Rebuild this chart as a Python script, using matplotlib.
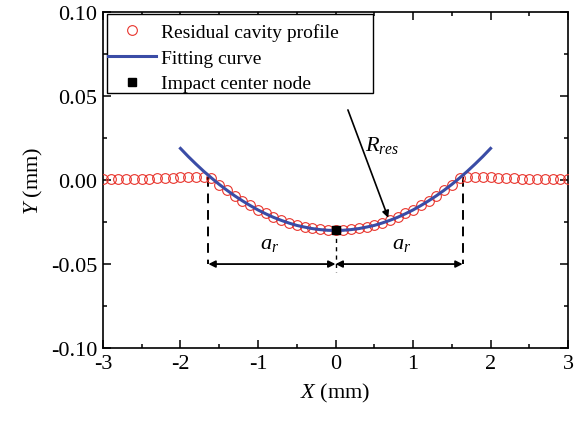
import numpy as np
import matplotlib as mpl
mpl.use('Agg')
import matplotlib.pyplot as plt
from matplotlib.patches import Rectangle
from matplotlib.ticker import MultipleLocator, FormatStrFormatter

# residual cavity profile, nodes every 0.1 mm
x_prof = np.round(np.arange(-30, 31) * 0.1, 1)
y_outer_left = [0.0005, 0.0005, 0.0006, 0.0006, 0.0007, 0.0008, 0.0009,
                0.0010, 0.0012, 0.0013, 0.0015, 0.0017, 0.0019, 0.0020]
y_inner_left = [0.0010, -0.0027, -0.0062, -0.0093, -0.0122, -0.0150,
                -0.0176, -0.0199, -0.0220, -0.0238, -0.0254, -0.0268,
                -0.0279, -0.0288, -0.0294, -0.0298]
y_center = [-0.0300]
y_prof = (y_outer_left + y_inner_left + y_center
          + y_inner_left[::-1] + y_outer_left[::-1])

# fitted circle, sampled every 0.1 mm between -2 and 2
x_fit = np.round(np.arange(-20, 21) * 0.1, 1)
y_fit_half = [0.0188, 0.0140, 0.0095, 0.0052, 0.0012, -0.0026, -0.0061,
              -0.0094, -0.0124, -0.0152, -0.0178, -0.0201, -0.0222,
              -0.0240, -0.0256, -0.0270, -0.0280, -0.0289, -0.0295,
              -0.0299]
y_fit = y_fit_half + [-0.0300] + y_fit_half[::-1]

x_node, y_node = 0.0, -0.030
a_r = 1.64
y_arrow = -0.050

plt.rcParams['font.family'] = ['Liberation Serif', 'DejaVu Serif']
plt.rcParams['mathtext.fontset'] = 'custom'
plt.rcParams['mathtext.rm'] = 'Liberation Serif'
plt.rcParams['mathtext.it'] = 'Liberation Serif:italic'
plt.rcParams['axes.unicode_minus'] = False

fig = plt.figure(figsize=(5.75, 4.31), dpi=100)
ax = fig.add_axes([0.179, 0.190, 0.809, 0.780])

red = '#e8342c'
blue = '#3a4ca6'

ax.plot(x_prof, y_prof, 'o', mfc='none', mec=red, mew=0.8, ms=7,
        label='Residual cavity profile', zorder=3)
ax.plot(x_fit, y_fit, '-', color=blue, lw=2.2, label='Fitting curve',
        zorder=4)
ax.plot([x_node], [y_node], 's', color='black', ms=6,
        label='Impact center node', zorder=5)

# dimension lines for the cavity radius
dash = dict(color='black', lw=1.4, ls=(0, (5, 3.5)), zorder=2)
ax.plot([-a_r, -a_r], [0.002, y_arrow], **dash)
ax.plot([a_r, a_r], [0.002, y_arrow], **dash)
ax.plot([0, 0], [y_node, -0.0545], color='black', lw=1.0,
        ls=(0, (3, 3)), zorder=2)
arr = dict(arrowstyle='<|-|>', color='black', lw=1.3,
           mutation_scale=10, shrinkA=0, shrinkB=0)
ax.annotate('', xy=(-a_r, y_arrow), xytext=(0, y_arrow), arrowprops=arr)
ax.annotate('', xy=(a_r, y_arrow), xytext=(0, y_arrow), arrowprops=arr)
ax.text(-0.85, -0.0375, r'$a_r$', fontsize=16, ha='center', va='center')
ax.text(0.85, -0.0375, r'$a_r$', fontsize=16, ha='center', va='center')

ax.annotate('', xy=(0.68, -0.0225), xytext=(0.16, 0.0417),
            arrowprops=dict(arrowstyle='-|>', color='black', lw=1.2,
                            mutation_scale=10, shrinkA=0, shrinkB=0))
ax.text(0.60, 0.021, r'$R_{res}$', fontsize=16, ha='center', va='center')

ax.set_xlim(-3, 3)
ax.set_ylim(-0.10, 0.10)
ax.xaxis.set_major_locator(MultipleLocator(1))
ax.xaxis.set_minor_locator(MultipleLocator(0.5))
ax.yaxis.set_major_locator(MultipleLocator(0.05))
ax.yaxis.set_minor_locator(MultipleLocator(0.025))
ax.yaxis.set_major_formatter(FormatStrFormatter('%.2f'))
ax.tick_params(which='both', direction='in', top=True, right=True,
               width=1.1, labelsize=16)
ax.tick_params(which='major', length=6, pad=4)
ax.tick_params(which='minor', length=3)
for sp in ax.spines.values():
    sp.set_linewidth(1.2)

ax.set_xlabel(r'$X$ (mm)', fontsize=16, labelpad=6)
ax.set_ylabel(r'$Y$ (mm)', fontsize=16, labelpad=4)

# legend entries without frame, plus a wider box drawn behind them
leg = ax.legend(loc='upper left', bbox_to_anchor=(0.004, 0.976),
                borderaxespad=0, fontsize=14, frameon=False,
                handlelength=2.5, handletextpad=0.25,
                labelspacing=0.42, borderpad=0.15)
leg.set_zorder(7)
ax.add_patch(Rectangle((0.0086, 0.759), 0.572, 0.235,
                       transform=ax.transAxes, facecolor='white',
                       edgecolor='black', lw=1.0, zorder=6))

fig.savefig('out.png', dpi=100)
